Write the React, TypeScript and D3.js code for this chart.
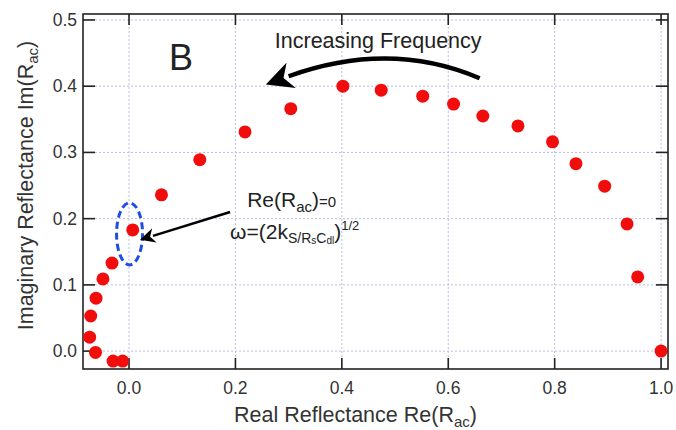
import * as d3 from "d3";

// Nyquist-style reflectance data
const reValues = [1.0, 0.956, 0.936, 0.894, 0.84, 0.796, 0.731, 0.665, 0.61, 0.552, 0.474, 0.402, 0.304, 0.218, 0.133, 0.061, 0.007, -0.032, -0.049, -0.062, -0.072, -0.074, -0.063, -0.03, -0.012];
const imValues = [0.0, 0.112, 0.192, 0.249, 0.283, 0.316, 0.34, 0.355, 0.373, 0.385, 0.394, 0.4, 0.366, 0.331, 0.289, 0.236, 0.183, 0.133, 0.109, 0.08, 0.053, 0.021, -0.002, -0.015, -0.015];
const xTicks = [0, 0.2, 0.4, 0.6, 0.8, 1.0];
const yTicks = [0, 0.1, 0.2, 0.3, 0.4, 0.5];

const W = 676;
const H = 430;
const margin = { left: 83, top: 14, right: 8, bottom: 61 };

const font = "'Liberation Sans', Arial, sans-serif";

export default function App() {
  const x = d3.scaleLinear().domain([-0.0865, 1.013]).range([margin.left, W - margin.right]);
  const y = d3.scaleLinear().domain([-0.027, 0.509]).range([H - margin.bottom, margin.top]);
  const [x0, x1] = x.range();
  const [y0, y1] = y.range();
  const fmt = d3.format(".1f");
  const pts = reValues.map((r, i) => [r, imValues[i]]);

  // curved "increasing frequency" arrow
  const curve = d3.path();
  curve.moveTo(x(0.659), y(0.412));
  curve.quadraticCurveTo(x(0.49), y(0.47), x(0.3), y(0.415));

  return (
    <svg width={W} height={H} style={{ position: "absolute", left: 0, top: 0, background: "#fff" }} fontFamily={font}>
      <defs>
        <marker id="head2" viewBox="0 0 10 10" refX="1" refY="5" markerWidth="6" markerHeight="6" orient="auto" markerUnits="strokeWidth">
          <path d="M0,0 L10,5 L0,10 L3,5 Z" fill="#000" />
        </marker>
      </defs>
      <rect width={W} height={H} fill="#fff" />
      {/* grid */}
      {xTicks.map((t) => (
        <line key={"gx" + t} x1={x(t)} x2={x(t)} y1={y0} y2={y1} stroke="#b9bce6" strokeDasharray="2,2" strokeWidth={1} />
      ))}
      {yTicks.map((t) => (
        <line key={"gy" + t} x1={x0} x2={x1} y1={y(t)} y2={y(t)} stroke="#b9bce6" strokeDasharray="2,2" strokeWidth={1} />
      ))}
      {/* frame */}
      <rect x={x0} y={y1} width={x1 - x0} height={y0 - y1} fill="none" stroke="#222" strokeWidth={1.6} />
      {xTicks.map((t) => (
        <g key={"tx" + t}>
          <line x1={x(t)} x2={x(t)} y1={y0} y2={y0 - 11} stroke="#222" strokeWidth={1.6} />
          <line x1={x(t)} x2={x(t)} y1={y1} y2={y1 + 11} stroke="#222" strokeWidth={1.6} />
          <text x={x(t)} y={y0 + 25} textAnchor="middle" fontSize={17.5} fill="#333">{fmt(t)}</text>
        </g>
      ))}
      {yTicks.map((t) => (
        <g key={"ty" + t}>
          <line x1={x0} x2={x0 + 12} y1={y(t)} y2={y(t)} stroke="#222" strokeWidth={1.6} />
          <line x1={x1} x2={x1 - 12} y1={y(t)} y2={y(t)} stroke="#222" strokeWidth={1.6} />
          <text x={x0 - 6} y={y(t) + 6} textAnchor="end" fontSize={17.5} fill="#333">{fmt(t)}</text>
        </g>
      ))}
      {/* axis titles */}
      <text x={(x0 + x1) / 2 - 20} y={H - 8} textAnchor="middle" fontSize={21.5} fill="#333">
        Real Reflectance Re(R<tspan fontSize={15} dy={5}>ac</tspan><tspan dy={-5}>)</tspan>
      </text>
      <text transform={`translate(33,${(y0 + y1) / 2 - 6}) rotate(-90)`} textAnchor="middle" fontSize={21.5} fill="#333">
        Imaginary Reflectance Im(R<tspan fontSize={15} dy={5}>ac</tspan><tspan dy={-5}>)</tspan>
      </text>
      {/* points */}
      {pts.map(([r, im], i) => (
        <circle key={i} cx={x(r)} cy={y(im)} r={6.5} fill="#f20d0d" />
      ))}
      {/* highlight ellipse */}
      <ellipse cx={x(0.001)} cy={y(0.177)} rx={13} ry={31} fill="none" stroke="#1f4fe0" strokeWidth={3} strokeDasharray="7,4" />
      {/* panel letter */}
      <text x={x(0.075)} y={y(0.425)} fontSize={36} fill="#222">B</text>
      {/* increasing frequency */}
      <text x={x(0.274)} y={y(0.458)} fontSize={21.5} fill="#222">Increasing Frequency</text>
      <path d={curve.toString()} fill="none" stroke="#000" strokeWidth={4.5} markerEnd="url(#head2)" />
      {/* Re(Rac)=0 annotation */}
      <text x={x(0.222)} y={y(0.218)} fontSize={21} fill="#222">
        Re(R<tspan fontSize={15} dy={5}>ac</tspan><tspan dy={-5}>)</tspan><tspan fontSize={15}>=0</tspan>
      </text>
      <text x={x(0.19)} y={y(0.17)} fontSize={21} fill="#222">
        ω=(2k<tspan fontSize={14} dy={4}>S/R</tspan><tspan fontSize={10} dy={1}>s</tspan><tspan fontSize={14} dy={-1}>C</tspan><tspan fontSize={10} dy={1}>dl</tspan><tspan dy={-5}>)</tspan><tspan fontSize={13} dy={-9}>1/2</tspan>
      </text>
      <line x1={x(0.19)} y1={y(0.21)} x2={x(0.045)} y2={y(0.174)} stroke="#000" strokeWidth={2.5} markerEnd="url(#head2)" />
    </svg>
  );
}
